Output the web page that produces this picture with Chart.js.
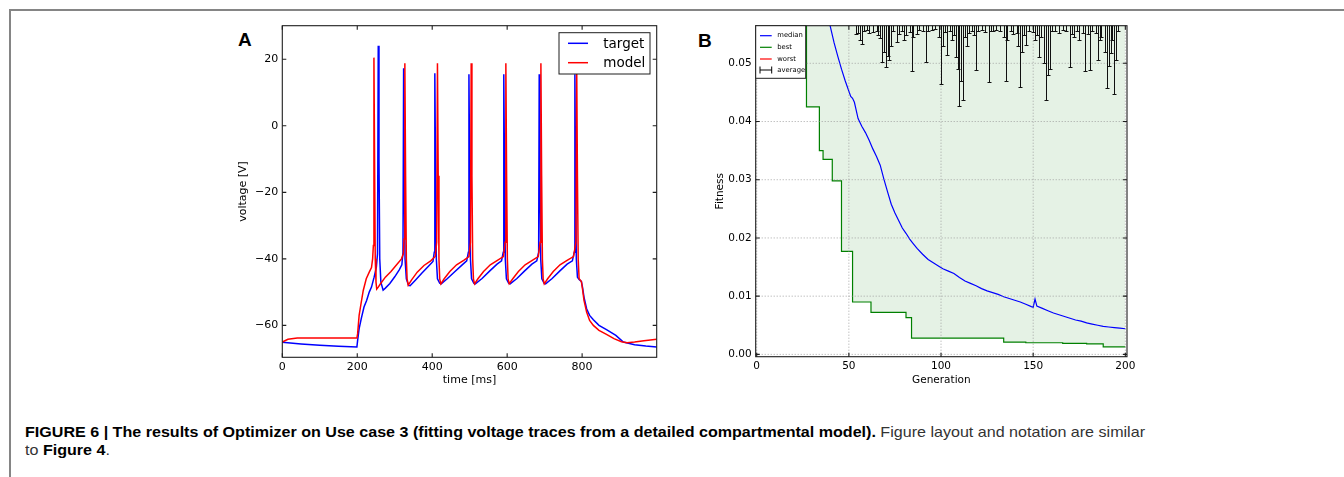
<!DOCTYPE html>
<html>
<head>
<meta charset="utf-8">
<title>Figure 6</title>
<script src="https://cdn.jsdelivr.net/npm/chart.js@4.4.0/dist/chart.umd.min.js"></script>
<style>
  body { margin: 0; width: 1344px; height: 477px; background: #fff; position: relative; overflow: hidden; }
  canvas { position: absolute; }
  .frame-top { position: absolute; left: 9px; top: 9px; right: 0; height: 0; border-top: 2px solid #858585; }
  .frame-left { position: absolute; left: 9px; top: 9px; bottom: 0; width: 0; border-left: 2px solid #858585; }
  .panel { position: absolute; font: bold 19px "Liberation Sans", Arial, sans-serif; line-height: 19px; color: #000; }
  #caption { position: absolute; left: 25px; top: 423px; font: 15px/18px "Liberation Sans", Arial, sans-serif; color: #333; white-space: nowrap; transform-origin: 0 0; }
  #caption b { color: #000; }
</style>
</head>
<body>
<div class="frame-top"></div>
<div class="frame-left"></div>
<div class="panel" style="left:238px;top:30px">A</div>
<div class="panel" style="left:698px;top:31px">B</div>
<canvas id="chartA" width="440" height="395" style="left:230px;top:15px"></canvas>
<canvas id="chartB" width="470" height="395" style="left:690px;top:15px"></canvas>
<div id="caption"><span id="line1"><b>FIGURE 6 | The results of Optimizer on Use case 3 (fitting voltage traces from a detailed compartmental model).</b> Figure layout and notation are similar</span><br>to <b>Figure 4</b>.</div>

<script>
// ---- panel A : voltage traces ----
const timeTicks = [0, 200, 400, 600, 800];
const voltTicks = [-60, -40, -20, 0, 20];

const targetT = [0, 50, 100, 150, 199,
  201, 205, 211, 218, 225, 232, 238, 245, 251, 254, 256, 258, 260, 263, 269, 275, 287, 300, 312, 319, 322,
  323.7, 325.5, 327.5, 331, 337, 341, 355, 372, 390, 402, 405.5,
  407, 409, 411, 414, 420, 424, 440, 460, 480, 492, 496.5,
  498, 500, 502, 505, 511, 515, 533, 553, 573, 585, 589.5,
  591, 593, 595, 598, 604, 608, 626, 646, 666, 679, 684,
  685.5, 687.5, 689.5, 692.5, 698.5, 702.5, 720, 740, 760, 774, 779,
  780.7, 782.5, 784.5, 787.5, 792, 798, 801, 805, 812, 820, 830, 845, 865, 890, 910, 940, 970, 999];
const targetV = [-65.1, -65.6, -66, -66.3, -66.5,
  -64.5, -61, -57.8, -54.5, -52.5, -50, -48.5, -45.5, -42.5, -38.5, 24.1, -10, -40, -47, -49.4, -48.8, -47.4, -45.4, -43.3, -41.8, -38,
  17.3, -15, -40, -46, -48, -48.1, -46.4, -44.3, -42.2, -40.8, -38,
  15.8, -15, -40, -46, -47.3, -47.5, -46, -43.9, -41.8, -40.6, -38,
  15.5, -15, -40, -46, -47.3, -47.5, -45.9, -43.7, -41.6, -40.6, -38,
  15.5, -15, -40, -46, -47.3, -47.5, -45.9, -43.7, -41.6, -40.6, -38,
  15.5, -15, -40, -46, -47.3, -47.5, -45.9, -43.7, -41.6, -40.6, -38,
  15.5, -15, -40, -45.5, -46.2, -46.8, -48.5, -51.5, -55, -57, -58.3, -60, -61.3, -63, -65, -65.8, -66.2, -66.5];

const modelT = [0, 15, 40, 120, 199,
  201, 205, 210, 216, 224, 232, 238, 241, 243, 244.5, 246.5, 248, 250, 252, 256, 262, 275, 290, 305, 318, 323, 325,
  327, 329, 331, 333, 336, 345, 360, 378, 396, 408, 412,
  414, 416, 418, 420, 423, 432, 447, 465, 485, 498, 502,
  504, 506, 508, 510, 513, 522, 537, 555, 575, 590, 594.5,
  596.5, 598.5, 600.5, 602.5, 605.5, 615, 630, 648, 668, 683, 688,
  690, 692, 694, 696, 699, 708, 723, 741, 761, 777, 783.5,
  785.5, 787.5, 789.5, 792, 798, 801, 805, 812, 820, 830, 845, 865, 885, 905, 920, 940, 965, 999];
const modelV = [-65, -64.2, -63.8, -63.8, -63.8,
  -62.5, -57, -53.5, -49.5, -46, -44, -42.6, -40, -36, 20.5, -15, -40, -47, -49.1, -48.5, -47.5, -45.5, -43.8, -41.8, -40, -38.5, -34,
  18.8, -15, -40, -46, -47.9, -46.3, -44, -42, -40.6, -39.3, -35,
  18.8, -15, -40, -46, -47.5, -46, -43.8, -41.8, -40.4, -39.3, -35,
  18.8, -15, -40, -46, -47.5, -46, -43.8, -41.8, -40.4, -39.3, -35,
  18.8, -15, -40, -46, -47.5, -46, -43.8, -41.8, -40.4, -39.3, -35,
  18.8, -15, -40, -46, -47.5, -46, -43.8, -41.8, -40.4, -39.3, -35,
  18.8, -15, -40, -46, -46.8, -49, -52.5, -56, -58.5, -60, -61.5, -62.7, -64, -64.9, -65.2, -65, -64.6, -64.2];

// ---- panel B : fitness per generation ----
const genTicks = [0, 50, 100, 150, 200];
const fitTicks = [0, 0.01, 0.02, 0.03, 0.04, 0.05];

const medianGen = [0, 30, 38, 40, 42, 44, 46, 48, 50, 51, 52, 53, 55, 57, 59, 61, 63, 65, 67, 69, 71, 73, 75, 77, 79,
  81, 83, 85, 87, 90, 93, 96, 99, 101, 104, 107, 110, 113, 116, 119, 122, 125, 128, 131, 134, 137, 140, 143, 146,
  149, 150, 151, 152, 155, 158, 161, 164, 167, 170, 173, 176, 179, 182, 185, 188, 191, 194, 197, 200];
const medianVal = [0.1, 0.07, 0.059, 0.0562, 0.0535, 0.0512, 0.049, 0.047, 0.0452, 0.0443, 0.044, 0.0433, 0.0405, 0.0392,
  0.0381, 0.0368, 0.0353, 0.034, 0.0325, 0.0301, 0.0279, 0.0258, 0.0243, 0.023, 0.0217, 0.0208, 0.0198, 0.019, 0.0182,
  0.0172, 0.0163, 0.0157, 0.0151, 0.0147, 0.0143, 0.0139, 0.0132, 0.0126, 0.0122, 0.0118, 0.0113, 0.0109, 0.0106,
  0.0103, 0.0099, 0.0096, 0.0093, 0.009, 0.0086, 0.0082, 0.0081, 0.0095, 0.0083, 0.0079, 0.0075, 0.0071, 0.0068,
  0.0065, 0.0062, 0.0059, 0.0057, 0.0054, 0.0052, 0.005, 0.0048, 0.0047, 0.0046, 0.0045, 0.0044];

const bestGen = [0, 27, 34, 36, 41, 46, 52, 62, 81, 84, 134, 146, 166, 179, 188, 200];
const bestVal = [0.09, 0.0425, 0.035, 0.0335, 0.0298, 0.0177, 0.009, 0.0072, 0.0063, 0.0028, 0.0021, 0.002, 0.0019, 0.0018, 0.0013, 0.0013];

// error bars of the average: only the lower ends reach into the plot
const avgGen = [54, 55, 56, 57, 58, 60, 61, 63, 65, 66,
  67, 68, 69, 70, 71, 72, 73, 74, 76, 77,
  79, 80, 81, 83, 84, 85, 87, 88, 90, 92,
  93, 95, 97, 99, 100, 101, 102, 103, 105, 106,
  107, 108, 109, 110, 111, 112, 113, 114, 115, 117,
  118, 119, 120, 122, 124, 126, 127, 128, 130, 132,
  134, 135, 136, 138, 139, 141, 142, 143, 144, 145,
  146, 148, 150, 151, 152, 153, 154, 156, 157, 158,
  159, 160, 162, 164, 166, 168, 170, 171, 172, 174,
  175, 177, 178, 180, 181, 182, 184, 185, 186, 187,
  189, 190, 191, 192, 193, 194, 195, 196];
const avgLow = [0.055, 0.0552, 0.054, 0.0534, 0.0555, 0.0558, 0.0552, 0.0554, 0.0556, 0.0548,
  0.0543, 0.0503, 0.052, 0.0494, 0.0512, 0.0506, 0.053, 0.0555, 0.0537, 0.055,
  0.0556, 0.054, 0.0548, 0.0553, 0.0486, 0.0545, 0.055, 0.0558, 0.0556, 0.0502,
  0.0556, 0.0557, 0.0559, 0.0545, 0.0464, 0.053, 0.0554, 0.0515, 0.0556, 0.054,
  0.0548, 0.051, 0.049, 0.0427, 0.047, 0.0437, 0.0545, 0.053, 0.0552, 0.0556,
  0.0548, 0.0488, 0.0555, 0.0557, 0.0553, 0.0468, 0.0556, 0.0555, 0.0558, 0.0556,
  0.0545, 0.047, 0.054, 0.0556, 0.055, 0.0552, 0.053, 0.046, 0.052, 0.0548,
  0.0532, 0.0556, 0.0554, 0.054, 0.0548, 0.051, 0.0545, 0.05, 0.0437, 0.048,
  0.049, 0.0555, 0.0556, 0.0552, 0.0557, 0.0556, 0.0494, 0.055, 0.0545, 0.0556,
  0.054, 0.0552, 0.0486, 0.055, 0.0488, 0.0555, 0.0552, 0.0506, 0.054, 0.0545,
  0.052, 0.0457, 0.0495, 0.0517, 0.054, 0.0447, 0.0505, 0.0556];

const pts = (xs, ys) => xs.map((x, i) => ({ x: x, y: ys[i] }));
const minus = v => (v < 0 ? '\u2212' + (-v) : String(v));

// spines, inward tick marks and (optional) dotted grid, like the old matplotlib look
const framePlugin = {
  id: 'frame',
  afterDatasetsDraw(chart, args, opts) {
    const { ctx, chartArea: a, scales: { x, y } } = chart;
    ctx.save();
    if (opts.grid) {
      ctx.strokeStyle = '#8f8f8f';
      ctx.lineWidth = 0.8;
      ctx.setLineDash([1, 2]);
      ctx.beginPath();
      opts.xTicks.forEach(v => {
        const px = x.getPixelForValue(v);
        ctx.moveTo(px, a.top); ctx.lineTo(px, a.bottom);
      });
      opts.yTicks.forEach(v => {
        const py = y.getPixelForValue(v);
        ctx.moveTo(a.left, py); ctx.lineTo(a.right, py);
      });
      ctx.stroke();
      ctx.setLineDash([]);
    }
    ctx.strokeStyle = '#1e1e1e';
    ctx.lineWidth = 1.1;
    ctx.strokeRect(a.left, a.top, a.right - a.left, a.bottom - a.top);
    const tl = 4;
    ctx.beginPath();
    opts.xTicks.forEach(v => {
      const px = x.getPixelForValue(v);
      ctx.moveTo(px, a.bottom); ctx.lineTo(px, a.bottom - tl);
      ctx.moveTo(px, a.top); ctx.lineTo(px, a.top + tl);
    });
    opts.yTicks.forEach(v => {
      const py = y.getPixelForValue(v);
      ctx.moveTo(a.left, py); ctx.lineTo(a.left + tl, py);
      ctx.moveTo(a.right, py); ctx.lineTo(a.right - tl, py);
    });
    ctx.stroke();
    ctx.restore();
  }
};

const legendA = {
  id: 'legendA',
  afterDatasetsDraw(chart) {
    const { ctx, chartArea: a } = chart;
    const bx = a.right - 97.7, by = a.top + 7;
    ctx.save();
    ctx.fillStyle = '#fff';
    ctx.fillRect(bx, by, 91, 41.3);
    ctx.strokeStyle = '#1e1e1e';
    ctx.lineWidth = 1;
    ctx.strokeRect(bx, by, 91, 41.3);
    ctx.font = '13.5px "DejaVu Sans"';
    ctx.textBaseline = 'middle';
    chart.data.datasets.forEach((ds, i) => {
      const yy = by + 10.6 + i * 19.4;
      ctx.strokeStyle = ds.borderColor;
      ctx.lineWidth = 1.5;
      ctx.beginPath(); ctx.moveTo(bx + 9, yy); ctx.lineTo(bx + 29, yy); ctx.stroke();
      ctx.fillStyle = '#000';
      ctx.fillText(ds.label, bx + 44.3, yy + 1);
    });
    ctx.restore();
  }
};

const errorBars = {
  id: 'errorBars',
  afterDatasetsDraw(chart) {
    const { ctx, chartArea: a, scales: { x, y } } = chart;
    ctx.save();
    ctx.beginPath();
    ctx.rect(a.left, a.top, a.right - a.left, a.bottom - a.top);
    ctx.clip();
    ctx.strokeStyle = '#111';
    ctx.lineWidth = 1;
    ctx.beginPath();
    avgGen.forEach((g, i) => {
      const px = Math.round(x.getPixelForValue(g)) + 0.5;
      const py = Math.round(y.getPixelForValue(avgLow[i])) + 0.5;
      ctx.moveTo(px, py); ctx.lineTo(px, a.top - 2);
      ctx.moveTo(px - 2, py); ctx.lineTo(px + 2, py);
    });
    ctx.stroke();
    ctx.restore();
  }
};

const legendB = {
  id: 'legendB',
  afterDatasetsDraw(chart) {
    const { ctx, chartArea: a } = chart;
    const bx = a.left, by = a.top;
    ctx.save();
    ctx.fillStyle = '#fff';
    ctx.fillRect(bx, by, 50, 52.6);
    ctx.strokeStyle = '#1e1e1e';
    ctx.lineWidth = 1;
    ctx.strokeRect(bx, by, 50, 52.6);
    ctx.font = '6.8px "DejaVu Sans"';
    ctx.textBaseline = 'middle';
    const rows = [10, 21.6, 33.3, 44.3];
    chart.data.datasets.forEach((ds, i) => {
      const yy = by + rows[i];
      ctx.strokeStyle = ds.borderColor;
      ctx.lineWidth = 1.2;
      ctx.beginPath(); ctx.moveTo(bx + 4.3, yy); ctx.lineTo(bx + 16, yy); ctx.stroke();
      ctx.fillStyle = '#000';
      ctx.fillText(ds.label, bx + 21.6, yy);
    });
    // errorbar symbol for "average"
    const ey = by + rows[3];
    ctx.strokeStyle = '#000';
    ctx.lineWidth = 1;
    ctx.beginPath();
    ctx.moveTo(bx + 4.3, ey); ctx.lineTo(bx + 16, ey);
    ctx.moveTo(bx + 4.3, ey - 3.5); ctx.lineTo(bx + 4.3, ey + 3.5);
    ctx.moveTo(bx + 16, ey - 3.5); ctx.lineTo(bx + 16, ey + 3.5);
    ctx.stroke();
    ctx.fillStyle = '#000';
    ctx.fillText('average', bx + 21.6, ey);
    ctx.restore();
  }
};

const fontA = { family: '"DejaVu Sans"', size: 11 };
const fontB = { family: '"DejaVu Sans"', size: 10.5 };

new Chart(document.getElementById('chartA'), {
  type: 'line',
  data: {
    datasets: [
      { label: 'target', data: pts(targetT, targetV), borderColor: '#0000ff', borderWidth: 1.5, pointRadius: 0, order: 1 },
      { label: 'model', data: pts(modelT, modelV), borderColor: '#ff0000', borderWidth: 1.5, pointRadius: 0, order: 0 }
    ]
  },
  options: {
    responsive: false,
    animation: false,
    devicePixelRatio: 1,
    layout: { padding: { top: 10.7, right: 13.3, left: 0, bottom: 0 }, autoPadding: false },
    plugins: {
      legend: { display: false },
      tooltip: { enabled: false },
      frame: { xTicks: timeTicks, yTicks: voltTicks }
    },
    scales: {
      x: {
        type: 'linear', min: 0, max: 999,
        afterBuildTicks: s => { s.ticks = timeTicks.map(v => ({ value: v })); },
        afterFit: s => { s.height = 52.7; },
        grid: { display: false, drawTicks: false }, border: { display: false },
        ticks: { font: fontA, color: '#000', padding: 3, maxRotation: 0 },
        title: { display: true, text: 'time [ms]', font: fontA, color: '#000', padding: { top: 0, bottom: 23.4 } }
      },
      y: {
        type: 'linear', min: -69.6, max: 30.1,
        afterBuildTicks: s => { s.ticks = voltTicks.map(v => ({ value: v })); },
        afterFit: s => { s.width = 52.3; },
        grid: { display: false, drawTicks: false }, border: { display: false },
        ticks: { font: fontA, color: '#000', padding: 4, callback: v => minus(v) },
        title: { display: true, text: 'voltage [V]', font: fontA, color: '#000', padding: { top: 6.4, bottom: 0 } }
      }
    }
  },
  plugins: [framePlugin, legendA]
});

new Chart(document.getElementById('chartB'), {
  type: 'line',
  data: {
    datasets: [
      { label: 'median', data: pts(medianGen, medianVal), borderColor: '#0000ff', borderWidth: 1.2, pointRadius: 0, clip: 0 },
      { label: 'best', data: pts(bestGen, bestVal), borderColor: '#008000', borderWidth: 1.2, pointRadius: 0, clip: 0,
        stepped: true, fill: 'end', backgroundColor: 'rgba(0,128,0,0.1)' },
      { label: 'worst', data: [], borderColor: '#ff0000', borderWidth: 1.2, pointRadius: 0 }
    ]
  },
  options: {
    responsive: false,
    animation: false,
    devicePixelRatio: 1,
    layout: { padding: { top: 10.7, right: 33, left: 0, bottom: 0 }, autoPadding: false },
    plugins: {
      legend: { display: false },
      tooltip: { enabled: false },
      filler: { drawTime: 'beforeDatasetsDraw' },
      frame: { xTicks: genTicks, yTicks: fitTicks, grid: true }
    },
    scales: {
      x: {
        type: 'linear', min: -0.55, max: 200.9,
        afterBuildTicks: s => { s.ticks = genTicks.map(v => ({ value: v })); },
        afterFit: s => { s.height = 53.3; },
        grid: { display: false, drawTicks: false }, border: { display: false },
        ticks: { font: fontB, color: '#000', padding: 3, maxRotation: 0 },
        title: { display: true, text: 'Generation', font: fontB, color: '#000', padding: { top: 0, bottom: 23.8 } }
      },
      y: {
        type: 'linear', min: -0.0004, max: 0.05646,
        afterBuildTicks: s => { s.ticks = fitTicks.map(v => ({ value: v })); },
        afterFit: s => { s.width = 65.7; },
        grid: { display: false, drawTicks: false }, border: { display: false },
        ticks: { font: fontB, color: '#000', padding: 4, callback: v => v.toFixed(2) },
        title: { display: true, text: 'Fitness', font: fontB, color: '#000', padding: { top: 23.8, bottom: 0 } }
      }
    }
  },
  plugins: [framePlugin, errorBars, legendB]
});

// squeeze the caption so the first line ends where the printed one does
const cap = document.getElementById('caption');
const w = document.getElementById('line1').getBoundingClientRect().width;
cap.style.transform = 'scaleX(' + (1120 / w) + ')';
</script>
</body>
</html>
